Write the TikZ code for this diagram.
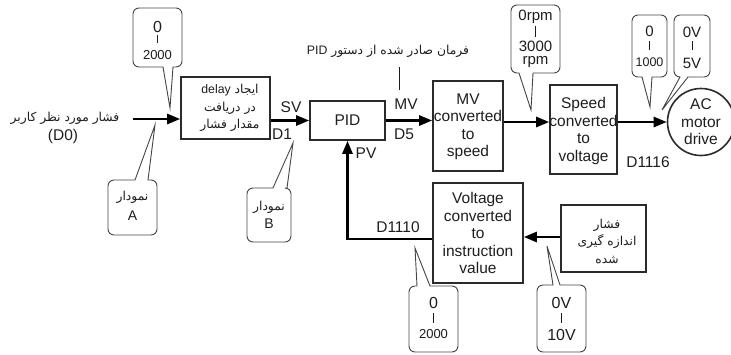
\documentclass[tikz,border=0pt]{standalone}
\usepackage{fontspec}
\setmainfont{Liberation Sans}
\newfontfamily\fa[Script=Arabic]{DejaVu Sans}
\TeXXeTstate=1
\usetikzlibrary{arrows.meta}
\definecolor{textc}{HTML}{1E1E1E}
\definecolor{boxc}{HTML}{2B2B2B}
\definecolor{callc}{HTML}{444444}
\newcommand\calloutdn[8]{%
 \draw[callline] (#5,#4) [rounded corners=6pt] -- (#1,#4) -- (#1,#2) -- (#3,#2) -- (#3,#4) [sharp corners] -- (#6,#4) -- (#7,#8) -- cycle;}
\newcommand\calloutup[8]{%
 \draw[callline] (#5,#2) [rounded corners=6pt] -- (#1,#2) -- (#1,#4) -- (#3,#4) -- (#3,#2) [sharp corners] -- (#6,#2) -- (#7,#8) -- cycle;}
\tikzset{
  txt/.style={inner sep=0pt, text=textc, align=center, font=\fontsize{15.5}{17.5}\selectfont},
  fatxt/.style={inner sep=0pt, text=textc, align=center, font=\fa\fontsize{12.3}{17.5}\selectfont},
  blockbox/.style={draw=boxc, line width=1.6pt, inner sep=0pt, fill=white},
  arr/.style={line width=2.6pt, -{Triangle[length=13pt,width=10pt]}},
  callline/.style={draw=callc, line width=0.9pt, fill=white},
  bar/.style={draw=textc, line width=0.8pt},
  thinline/.style={draw=textc, line width=0.8pt},
}
\begin{document}
\begin{tikzpicture}[x=1pt,y=-1pt]
\useasboundingbox (0,0) rectangle (731,354);
% row coordinates
\coordinate (r1) at (0,119);
\coordinate (r4) at (0,122);
\coordinate (fb) at (0,239);
\coordinate (r6) at (0,237);
% input text
\node[fatxt] (inlabel) at (65,118) {\beginR فشار مورد نظر کاربر\endR};
\node[txt] (d0) at (63,136) {(D0)};
\coordinate (instart) at (133,119);
% blocks
\node[blockbox, minimum width=89pt, minimum height=62pt] (delay) at (225.5,108) {};
\node[fatxt] (delaytxt) at (230,108) {\beginR ایجاد {\rmfamily\beginL delay\endL}\endR\\ \beginR در دریافت\endR\\ \beginR مقدار فشار\endR};
\node[blockbox, minimum width=75pt, minimum height=39pt, txt] (pid) at (347.5,120.5) {PID};
\node[blockbox, minimum width=70pt, minimum height=90pt] (mvbox) at (468,126) {};
\node[txt] (mvtxt) at (468,127) {MV\\converted\\to\\speed};
\node[blockbox, minimum width=67pt, minimum height=89pt] (speed) at (583.5,129.5) {};
\node[txt] (speedtxt) at (583.5,131) {Speed\\converted\\to\\voltage};
\node[circle, draw=boxc, line width=1.6pt, minimum size=67pt, inner sep=0pt, txt] (motor) at (701,122) {AC\\motor\\drive};
\node[blockbox, minimum width=90pt, minimum height=100pt] (volt) at (478,233) {};
\node[txt] (volttxt) at (478,233) {Voltage\\converted\\to\\instruction\\value};
\node[blockbox, minimum width=85pt, minimum height=67pt] (meas) at (603.5,238.5) {};
\node[fatxt] (meastxt) at (607,241) {\beginR فشار\endR\\ \beginR اندازه گیری\endR\\ \beginR شده\endR};
% arrows
\draw[arr] (instart) -- (delay.west |- instart);
\draw[arr] (delay.east |- pid.west) -- (pid.west);
\draw[arr] (pid.east) -- (mvbox.west |- pid.east);
\draw[arr] (mvbox.east |- r4) -- (speed.west |- r4);
\draw[arr] (speed.east |- motor.west) -- (motor.west);
\draw[arr] (meas.west |- r6) -- (volt.east |- r6);
\draw[arr] (volt.west |- fb) -| (pid.south);
% labels
\node[txt] (sv) at (291,107) {SV};
\node[txt] (d1) at (282,134) {D1};
\node[txt] (mv) at (406,104) {MV};
\node[txt] (d5) at (404,134) {D5};
\node[txt] (pv) at (366,153) {PV};
\node[txt] (d1116) at (648,162) {D1116};
\node[txt] (d1110) at (398,227) {D1110};
% MV annotation
\node[fatxt] (mvnote) at (388,51) {\beginR فرمان صادر شده از دستور {\rmfamily\beginL PID\endL}\endR};
\coordinate (mvl1) at (399,67);
\coordinate (mvl2) at (399,90);
\draw[thinline] (mvl1) -- (mvl2);
% callouts
\calloutdn{133}{8}{182}{67}{163}{173}{170}{108}
\node[txt, font=\fontsize{16}{18}\selectfont] (c1a) at (157.5,27) {0};
\draw[bar] (157.5,35) -- (157.5,43);
\node[txt, font=\fontsize{13}{15}\selectfont] (c1b) at (157.5,55) {2000};
\calloutup{108}{180}{157}{235}{135}{148}{155}{125}
\node[fatxt] (cA1) at (132.5,197) {\beginR نمودار\endR};
\node[txt, font=\fontsize{14}{16}\selectfont] (cA2) at (132.5,216) {A};
\calloutup{247}{188}{291}{242}{273}{287}{293}{143}
\node[fatxt] (cB1) at (269,207) {\beginR نمودار\endR};
\node[txt, font=\fontsize{14}{16}\selectfont] (cB2) at (269,224) {B};
\calloutdn{511}{5}{560}{73}{519}{533}{531}{110}
\node[txt, font=\fontsize{15}{17}\selectfont] (c4a) at (535.5,17) {0rpm};
\draw[bar] (535.5,26) -- (535.5,37);
\node[txt, font=\fontsize{15}{17}\selectfont] (c4b) at (535.5,46) {3000};
\node[txt, font=\fontsize{15}{17}\selectfont] (c4c) at (535.5,62.5) {rpm};
\calloutdn{632}{15}{667}{77}{642}{652}{650}{107}
\node[txt, font=\fontsize{15}{17}\selectfont] (c5a) at (649.5,31) {0};
\draw[bar] (649.5,41) -- (649.5,50);
\node[txt, font=\fontsize{12.5}{14}\selectfont] (c5b) at (649.5,62) {1000};
\calloutdn{674}{15}{710}{77}{680}{688}{662}{110}
\node[txt, font=\fontsize{15}{17}\selectfont] (c6a) at (692,32) {0V};
\draw[bar] (692,41) -- (692,50);
\node[txt, font=\fontsize{15}{17}\selectfont] (c6b) at (692,63) {5V};
\calloutup{409}{286}{458}{352}{417}{430}{415}{248}
\node[txt, font=\fontsize{16}{18}\selectfont] (c7a) at (433.5,303) {0};
\draw[bar] (433.5,313) -- (433.5,323);
\node[txt, font=\fontsize{13}{15}\selectfont] (c7b) at (433.5,334) {2000};
\calloutup{537}{285}{586}{352}{553}{560}{547}{246}
\node[txt, font=\fontsize{16}{18}\selectfont] (c8a) at (561.5,303) {0V};
\draw[bar] (561.5,313) -- (561.5,323);
\node[txt, font=\fontsize{16}{18}\selectfont] (c8b) at (561.5,335) {10V};
\end{tikzpicture}
\end{document}
